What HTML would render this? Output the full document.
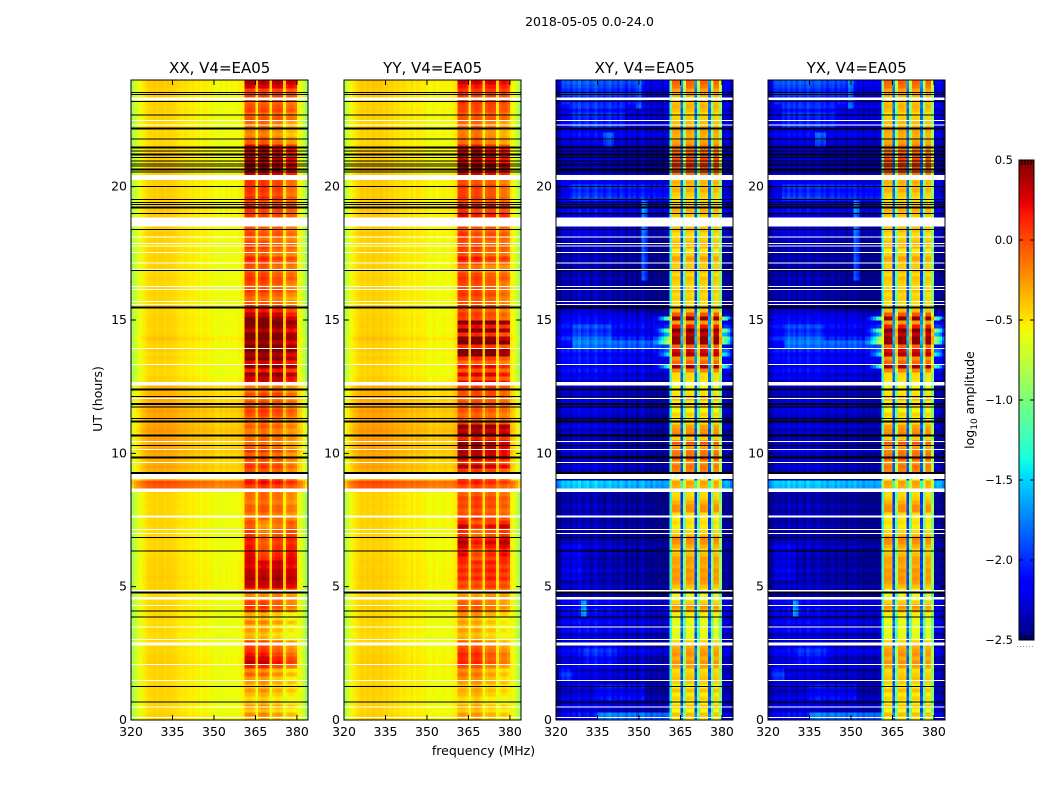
<!DOCTYPE html>
<html lang="en">
<head>
<meta charset="utf-8">
<title>2018-05-05 0.0-24.0</title>
<style>
html,body{margin:0;padding:0;background:#fff;width:1050px;height:800px;overflow:hidden}
svg{display:block}
text{font-family:"DejaVu Sans","Liberation Sans",sans-serif;fill:#000}
</style>
</head>
<body>
<svg id="fig" xmlns="http://www.w3.org/2000/svg" width="1050" height="800" viewBox="0 0 1050 800">
  <rect x="0" y="0" width="1050" height="800" fill="#fff"/>
  <text x="589.5" y="26" font-size="12.5" text-anchor="middle">2018-05-05 0.0-24.0</text>
  <text x="0" y="0" font-size="12.5" text-anchor="middle" transform="translate(102,399) rotate(-90)">UT (hours)</text>
  <text x="483.5" y="755" font-size="12.5" text-anchor="middle">frequency (MHz)</text>
  <text x="0" y="0" font-size="12.5" text-anchor="middle" transform="translate(974,400) rotate(-90)">log<tspan font-size="9" dy="3">10</tspan><tspan dy="-3"> amplitude</tspan></text>
  <g id="panels"></g>
  <g id="colorbar"></g>
</svg>
<script>
const xTickValues = [320, 335, 350, 365, 380];
const yTickValues = [0, 5, 10, 15, 20];
const colorbarTicks = [0.5, 0.0, -0.5, -1.0, -1.5, -2.0, -2.5];

const freqMin = 320;
const freqMax = 384;
const utMax = 24;
const rowHours = 0.15;
const valueMin = -2.5;
const valueMax = 0.5;

const xxProfile = [-.85,-.72,-.66,-.6,-.54,-.5,-.46,-.46,-.44,-.46,-.44,-.44,-.46,-.44,-.46,-.46,-.48,-.5,-.52,-.5,-.52,-.54,-.52,-.56,-.54,-.58,-.54,-.56,-.58,-.56,-.6,-.62,-.58,-.62,-.58,-.6,-.58,-.6,-.58,-.56,-.54,.02,.05,.05,0,-.5,-.02,.05,.04,-.02,-.5,-.02,.04,.05,0,-.5,-.05,.02,0,-.05,-.56,-.62,-.74,-.9];
const yyProfile = [-.82,-.68,-.6,-.54,-.5,-.46,-.44,-.46,-.43,-.46,-.42,-.44,-.44,-.43,-.46,-.44,-.48,-.46,-.5,-.48,-.52,-.5,-.52,-.54,-.5,-.56,-.52,-.54,-.56,-.54,-.58,-.6,-.56,-.6,-.58,-.58,-.56,-.58,-.58,-.54,-.52,.03,.05,.04,0,-.5,-.02,.04,.04,-.02,-.5,-.02,.03,.03,0,-.5,-.03,.03,.02,-.05,-.54,-.6,-.72,-.88];
const xyProfile = [-.15,-.05,.1,.05,.12,.02,.15,.08,.2,.05,.12,.18,.04,.1,.2,.06,.12,.02,.1,.16,.02,.08,-.02,.12,.05,-.05,.1,0,.06,-.08,.04,.12,-.05,.02,-.1,.04,-.05,0,-.08,-.02,0,0,.02,.03,0,.2,0,.04,.04,0,.2,-.02,.03,.03,0,.2,0,.03,0,0,-.05,.05,0,-.15];
const yxProfile = [-.12,-.02,.08,.1,.06,.12,.04,.18,.06,.14,.02,.16,.1,.02,.18,.08,.04,.12,.15,.03,.1,-.02,.06,.1,-.04,.08,.02,.05,-.06,.06,0,.1,-.03,.04,-.08,.02,-.02,.02,-.06,0,.02,0,.03,.02,0,.2,0,.03,.05,0,.2,0,.02,.04,0,.2,0,.02,0,0,-.02,.06,.02,-.12];

const parallelGain = [0,0,0,0,0,0,0,0,0,0,0,0,0,0,0,0,0,0,0,0,0,0,0,0,0,0,0,0,0,0,0,0,0,0,0,0,0,0,0,0,0,1,1,1,1,.25,1,1,1,1,.25,1,1,1,1,.25,1,1,1,1,0,0,0,0];
const crossGain = [0,0,0,0,0,0,0,0,0,0,0,0,0,0,0,0,0,0,0,0,0,0,0,0,0,0,0,0,0,0,0,0,0,0,0,0,0,0,0,0,0,.6,1,1,1,.15,.72,1,1,1,.15,.72,1,1,1,.15,.72,1,1,.72,0,0,0,0];
const crossSkirt = [0,0,0,0,0,0,0,0,0,0,0,0,0,0,0,0,0,0,0,0,0,0,0,0,0,0,0,0,0,0,0,0,0,0,0,.3,.6,1.2,2,2.6,3.2,0,0,0,0,0,0,0,0,0,0,0,0,0,0,0,0,0,0,0,3.5,2.8,2,1.2];

const subbandOne = [0,.1,.1,0,.1,0,.05,0,0,.05,.05,.05,.05,.05,.05,.05];
const subbandTwo = [.05,.1,.1,0,-.1,.05,.05,.05,.05,.1,.05,.05,0,.05,.1,.05];
const subbandThree = [-.05,-.05,0,.05,0,0,0,0,.05,.05,0,-.05,0,0,0,.05];
const subbandFour = [-.1,-.15,-.1,0,.1,-.05,-.1,-.05,-.05,-.05,-.1,-.05,-.05,-.1,-.1,0];

const xxBandRows = [
-.4,-.25,-.45,-.3,-.45,-.5,-.4,-.3,-.45,-.3,
-.4,-.2,-.35,0,.2,.15,.05,-.05,-.1,-.1,
-.45,-.5,-.4,-.5,-.3,-.5,-.45,-.15,-.05,-.1,
-.2,-.25,-.1,.25,.3,.35,.3,.3,.2,.25,
.15,.1,.05,.05,0,.05,-.05,-.1,-.2,-.15,
-.15,-.2,-.1,-.1,-.2,-.15,-.15,-.2,0,.15,
-.05,-.15,-.1,0,-.15,-.05,-.15,0,-.15,-.2,
-.15,-.2,-.2,-.1,-.2,-.15,-.05,0,-.15,-.05,
-.2,-.05,-.2,-.2,.2,.25,.4,.1,.45,.2,
.4,.3,.5,.45,.3,.5,.45,.25,.4,.5,
.4,.25,.1,0,-.1,-.2,-.1,0,-.15,-.05,
0,-.05,-.15,-.1,-.05,.05,-.15,-.1,0,-.1,
-.15,-.05,-.1,-.1,-.1,-.05,0,0,.1,-.05,
.05,-.05,0,0,0,-.05,.25,.3,.4,.3,
.35,.2,.3,.15,-.15,-.2,-.3,-.25,-.25,-.2,
-.1,-.2,-.05,-.1,-.15,-.05,0,-.05,.2,.3];

const yyBandRows = [
-.4,-.3,-.45,-.35,-.5,-.5,-.4,-.35,-.45,-.3,
-.35,-.25,-.35,-.15,0,-.05,0,-.1,-.15,-.2,
-.45,-.5,-.4,-.5,-.4,-.5,-.35,-.2,-.15,-.2,
-.25,-.3,-.2,0,-.05,.1,0,.1,0,.1,
0,.1,0,.15,.25,.15,-.05,-.05,.2,0,
0,-.05,-.1,0,-.05,0,-.1,-.15,-.05,.1,
-.05,0,0,.3,0,.25,.3,.3,.35,.4,
.1,.4,.3,.45,0,-.1,-.15,-.05,-.1,-.05,
-.15,-.05,-.05,0,.2,-.05,.2,-.1,.15,-.15,
0,.45,.45,0,.55,.4,0,.45,.1,.5,
-.05,0,-.1,0,-.1,-.1,0,-.05,-.1,-.05,
0,-.05,-.2,-.2,0,.1,-.1,-.05,0,-.1,
-.05,0,-.1,-.05,0,.1,.15,0,.2,-.05,
0,-.05,-.05,0,-.1,-.05,.2,.3,.45,.25,
.25,.35,.25,.05,-.2,-.2,-.25,-.25,-.2,-.2,
-.1,-.15,-.05,-.05,0,-.1,0,0,.1,.2];

const crossBandRows = [
-.55,-.4,-.6,-.4,-.6,-.45,-.55,-.4,-.6,-.45,
-.4,-.45,-.5,-.3,-.25,-.35,-.25,-.3,-.35,-.45,
-.6,-.65,-.6,-.7,-.6,-.7,-.55,-.35,-.25,-.45,
-.65,-.65,-.55,-.4,-.3,-.25,-.3,-.25,-.35,-.3,
-.3,-.4,-.5,-.35,-.25,-.2,-.4,-.5,-.55,-.5,
-.55,-.5,-.25,-.25,-.35,-.45,-.5,-.45,-.35,-.3,
-.6,-.5,-.2,-.15,-.3,-.05,-.15,-.2,-.3,-.05,
-.45,-.2,-.25,-.3,-.5,-.55,-.45,-.6,-.5,-.55,
-.35,-.5,-.55,-.6,-.55,-.5,-.5,-.2,.4,-.1,
-.25,.35,.2,-.1,.45,.45,.3,.5,.15,-.3,
.45,-.05,-.4,-.5,-.5,-.45,-.5,-.4,-.5,-.45,
-.4,-.5,-.35,-.45,-.4,-.3,-.45,-.55,-.35,-.4,
-.45,-.5,-.4,-.4,-.45,-.5,-.4,-.35,-.4,-.45,
-.5,-.45,-.35,-.4,-.35,-.45,-.15,-.1,0,-.05,
0,-.1,-.15,-.2,-.3,-.35,-.35,-.3,-.35,-.4,
-.45,-.5,-.4,-.35,-.4,-.45,-.3,-.3,-.15,-.1];

const parallelLowRows = [
0,.02,-.01,.01,0,-.01,.01,0,.02,-.01,
0,.01,0,.02,.03,.02,.01,0,.01,0,
-.02,-.02,0,-.01,-.02,0,-.01,0,.01,0,
0,-.01,0,.02,.02,.03,.02,.02,.01,.02,
.01,0,.01,0,0,.01,0,-.01,0,.01,
0,.01,0,.01,0,.01,0,.02,.4,.45,
.1,.1,.13,.16,.12,.15,.14,.18,.16,.14,
.18,.16,.2,.18,.14,.16,.15,.18,.14,.12,
.15,.12,.1,.12,.03,.02,0,-.01,.01,0,
.02,0,.03,.01,.02,.06,.02,0,.02,.01,
.02,0,.01,0,-.01,0,.01,0,-.01,0,
.01,0,-.01,.01,0,.01,0,.02,0,.01,
.01,.03,.02,.03,.02,.04,.03,.04,.03,.02,
.03,.02,.03,.02,.03,.02,.03,.02,.03,.02,
.01,.02,.01,0,-.01,0,.01,0,-.01,0,
.01,0,.02,0,.01,.02,.03,.02,.03,.04];

const crossLowRows = [
-2.3,-2.2,-2.42,-2.28,-2.45,-2.3,-2.4,-2.46,-2.28,-2.4,
-2.4,-2.32,-2.46,-2.28,-2.36,-2.42,-2.28,-2.22,-2.4,-2.42,
-2.3,-2.42,-2.22,-2.4,-2.24,-2.36,-2.3,-2.18,-2.34,-2.24,
-2.4,-2.5,-2.44,-2.38,-2.5,-2.44,-2.5,-2.38,-2.5,-2.44,
-2.5,-2.42,-2.5,-2.38,-2.44,-2.5,-2.44,-2.5,-2.42,-2.5,
-2.5,-2.44,-2.5,-2.42,-2.5,-2.5,-2.48,-2.5,-1.65,-1.6,
-2.44,-2.5,-2.44,-2.38,-2.44,-2.4,-2.46,-2.32,-2.44,-2.4,
-2.44,-2.38,-2.46,-2.32,-2.4,-2.46,-2.38,-2.32,-2.4,-2.32,
-2.34,-2.42,-2.32,-2.42,-2.42,-2.28,-2.34,-2.2,-2.3,-2.22,
-2.2,-2.26,-2.12,-2.26,-2.2,-2.06,-2.22,-2.26,-2.14,-2.22,
-2.26,-2.32,-2.42,-2.46,-2.44,-2.5,-2.44,-2.5,-2.44,-2.5,
-2.44,-2.5,-2.44,-2.5,-2.5,-2.44,-2.5,-2.44,-2.5,-2.44,
-2.44,-2.38,-2.32,-2.38,-2.32,-2.28,-2.4,-2.22,-2.34,-2.28,
-2.22,-2.3,-2.36,-2.24,-2.3,-2.18,-2.36,-2.42,-2.36,-2.42,
-2.4,-2.46,-2.34,-2.42,-2.34,-2.28,-2.22,-2.3,-2.22,-2.3,
-2.3,-2.22,-2.36,-2.22,-2.3,-2.36,-2.22,-2.3,-2.22,-2.16];

const streakUTStart = [.1,1.5,14.05,14.4,16.6,4.0,23.1,23.0,22.3,21.5,19.5,2.2,.9,5.3];
const streakUTEnd = [.3,1.9,14.25,14.8,19.5,4.5,24.0,24.0,23.0,22.0,20.0,2.7,1.3,6.6];
const streakFreqStart = [335,321,326,326,351,329,322,349,325,337,325,330,335,322];
const streakFreqEnd = [361,326,361,340,353,331,350,351,345,341,361,342,352,330];
const streakLift = [.4,.3,.35,.15,.5,.5,.2,.4,.15,.3,.2,.15,.15,.12];

const blackThinUT = [23.54,23.45,23.2,22.68,21.78,21.34,21.1,20.97,20.85,20.78,20.55,20.01,19.51,19.41,19.34,19.0,18.4,16.85,12.14,11.73,11.3,10.29,6.85,6.33,4.08,3.86,1.26,.67];
const blackThickUT = [22.19,21.46,21.2,20.65,19.21,15.46,12.4,11.85,11.19,10.66,9.84,9.27,4.79];
const whiteThinUT = [22.49,18.11,17.86,17.78,17.54,17.13,16.9,16.26,16.15,15.69,15.59,13.94,13.34,12.06,10.44,10.15,9.66,7.14,7.0,4.3,3.48,3.02,2.09,1.49,.48,.09];
const whiteBandStartUT = [23.25,22.29,20.25,18.5,12.55,9.04,8.55,7.59,4.82,4.51,2.79];
const whiteBandEndUT = [23.34,22.33,20.44,18.85,12.68,9.23,8.69,7.66,4.88,4.61,2.91];

const panelNames = ['xx', 'yy', 'xy', 'yx'];
const panelTitles = ['XX, V4=EA05', 'YY, V4=EA05', 'XY, V4=EA05', 'YX, V4=EA05'];
const panelProfiles = [xxProfile, yyProfile, xyProfile, yxProfile];
const panelBandRows = [xxBandRows, yyBandRows, crossBandRows, crossBandRows];
const panelLowRows = [parallelLowRows, parallelLowRows, crossLowRows, crossLowRows];
const panelGains = [parallelGain, parallelGain, crossGain, crossGain];
const panelSkirts = [null, null, crossSkirt, crossSkirt];
const panelLeft = [131, 344, 556, 768];

const plotTop = 80;
const plotHeight = 640;
const plotWidth = 177;
const cbLeft = 1019;
const cbTop = 160;
const cbWidth = 15;
const cbHeight = 480;
const SVGNS = 'http://www.w3.org/2000/svg';

function xScale(left, mhz) { return left + (mhz - freqMin) / (freqMax - freqMin) * plotWidth; }
function yScale(ut) { return plotTop + plotHeight - ut / utMax * plotHeight; }
function cbScale(v) { return cbTop + (valueMax - v) / (valueMax - valueMin) * cbHeight; }

function ramp(t, pts) {
  for (let i = 1; i < pts.length; i++) {
    if (t <= pts[i][0]) {
      const f = (t - pts[i - 1][0]) / (pts[i][0] - pts[i - 1][0]);
      return pts[i - 1][1] + f * (pts[i][1] - pts[i - 1][1]);
    }
  }
  return pts[pts.length - 1][1];
}
const jetR = [[0,0],[.35,0],[.66,1],[.89,1],[1,.5]];
const jetG = [[0,0],[.125,0],[.375,1],[.64,1],[.91,0],[1,0]];
const jetB = [[0,.5],[.11,1],[.34,1],[.65,0],[1,0]];
function colorOf(v) {
  const t = Math.max(0, Math.min(1, (v - valueMin) / (valueMax - valueMin)));
  return 'rgb(' + Math.round(255 * ramp(t, jetR)) + ',' + Math.round(255 * ramp(t, jetG)) + ',' + Math.round(255 * ramp(t, jetB)) + ')';
}
function make(tag, parent, attrs) {
  const el = document.createElementNS(SVGNS, tag);
  for (const k in attrs) el.setAttribute(k, attrs[k]);
  parent.appendChild(el);
  return el;
}
function streakLiftAt(ut, mhz) {
  let lift = 0;
  for (let i = 0; i < streakLift.length; i++) {
    if (ut >= streakUTStart[i] - rowHours && ut < streakUTEnd[i] && mhz >= streakFreqStart[i] && mhz < streakFreqEnd[i]) {
      lift = Math.max(lift, streakLift[i]);
    }
  }
  return lift;
}
function subbandOffset(r, c) {
  const block = Math.floor(r / 10);
  if (c >= 41 && c <= 44) return subbandOne[block];
  if (c >= 46 && c <= 49) return subbandTwo[block];
  if (c >= 51 && c <= 54) return subbandThree[block];
  if (c >= 56 && c <= 59) return subbandFour[block];
  return 0;
}

const panelsRoot = document.getElementById('panels');
panelNames.forEach(function (name, p) {
  const left = panelLeft[p];
  const profile = panelProfiles[p];
  const band = panelBandRows[p];
  const low = panelLowRows[p];
  const gain = panelGains[p];
  const skirt = panelSkirts[p];

  const g = make('g', panelsRoot, {});
  
  

  const cells = make('g', g, { 'shape-rendering': 'crispEdges' });
  
  
  for (let r = 0; r < band.length; r++) {
    const yTop = yScale((r + 1) * rowHours);
    const yBot = yScale(r * rowHours);
    for (let c = 0; c < profile.length; c++) {
      const x0 = xScale(left, freqMin + c);
      const x1 = xScale(left, freqMin + c + 1);
      let v = profile[c] + low[r] * (1 - gain[c]) + band[r] * gain[c];
      if (skirt) {
        v += skirt[c] * Math.max(0, band[r] - 0.1);
        v += streakLiftAt(r * rowHours, freqMin + c);
      } else {
        v += subbandOffset(r, c);
      }
      const cell = make('rect', cells, { x: x0, y: yTop, width: x1 - x0 + 0.6, height: yBot - yTop + 0.6, fill: colorOf(v) });
      
      
    }
  }

  const flags = make('g', g, { 'shape-rendering': 'crispEdges' });
  
  
  function flagRect(y, h, fill) {
    const el = make('rect', flags, { x: left, y: y, width: plotWidth, height: h, fill: fill });
    
    
  }
  whiteThinUT.forEach(function (u) { flagRect(yScale(u) - 0.5, 1, '#fff'); });
  whiteBandStartUT.forEach(function (u, i) {
    flagRect(yScale(whiteBandEndUT[i]), yScale(u) - yScale(whiteBandEndUT[i]), '#fff');
  });
  blackThinUT.forEach(function (u) { flagRect(yScale(u) - 0.5, 1, '#000'); });
  blackThickUT.forEach(function (u) { flagRect(yScale(u) - 1, 2, '#000'); });

  const frame = make('rect', g, { x: left, y: plotTop, width: plotWidth, height: plotHeight, fill: 'none', stroke: '#000', 'stroke-width': 1 });
  
  

  xTickValues.forEach(function (t) {
    const x = xScale(left, t);
    const tb = make('path', g, { d: 'M' + x + ' ' + (plotTop + plotHeight) + 'v-5M' + x + ' ' + plotTop + 'v5', stroke: '#000', 'stroke-width': 1, fill: 'none' });
    
    
    const lb = make('text', g, { x: x, y: plotTop + plotHeight + 16, 'font-size': 12.5, 'text-anchor': 'middle' });
    lb.textContent = String(t);
    
    
  });
  yTickValues.forEach(function (t) {
    const y = yScale(t);
    const tk = make('path', g, { d: 'M' + left + ' ' + y + 'h5M' + (left + plotWidth) + ' ' + y + 'h-5', stroke: '#000', 'stroke-width': 1, fill: 'none' });
    
    
    const lb = make('text', g, { x: left - 4, y: y + 4, 'font-size': 12.5, 'text-anchor': 'end' });
    lb.textContent = String(t);
    
    
  });
  const title = make('text', g, { x: left + plotWidth / 2 + 0.2, y: 73, 'font-size': 15, 'text-anchor': 'middle' });
  title.textContent = panelTitles[p];
  
  
});

const cbRoot = document.getElementById('colorbar');
const cbSteps = make('g', cbRoot, { 'shape-rendering': 'crispEdges' });


for (let i = 0; i < cbHeight; i += 2) {
  const v = valueMax - (i + 1) / cbHeight * (valueMax - valueMin);
  const s = make('rect', cbSteps, { x: cbLeft, y: cbTop + i, width: cbWidth, height: 2.5, fill: colorOf(v) });
  
  
}
const cbFrame = make('rect', cbRoot, { x: cbLeft, y: cbTop, width: cbWidth, height: cbHeight, fill: 'none', stroke: '#000', 'stroke-width': 1 });


colorbarTicks.forEach(function (v) {
  const y = cbScale(v);
  const t = make('path', cbRoot, { d: 'M' + cbLeft + ' ' + y + 'h4M' + (cbLeft + cbWidth) + ' ' + y + 'h-4', stroke: '#000', 'stroke-width': 1, fill: 'none' });
  
  
  const lb = make('text', cbRoot, { x: cbLeft - 6, y: y + 4, 'font-size': 11.5, 'text-anchor': 'end' });
  lb.textContent = (v < 0 ? '\u2212' : '') + Math.abs(v).toFixed(1);
  
  
});
const cbEnds = make('path', cbRoot, { d: 'M1022 160v5M1025 160v5M1028 160v5M1031 160v5M1022 640v-5M1025 640v-5M1028 640v-5M1031 640v-5', stroke: '#000', 'stroke-width': 1, fill: 'none' });


const cbDots = make('line', cbRoot, { x1: 1017, x2: 1035, y1: 646.5, y2: 646.5, stroke: '#999', 'stroke-width': 1, 'stroke-dasharray': '1 2' });


</script>
</body>
</html>
